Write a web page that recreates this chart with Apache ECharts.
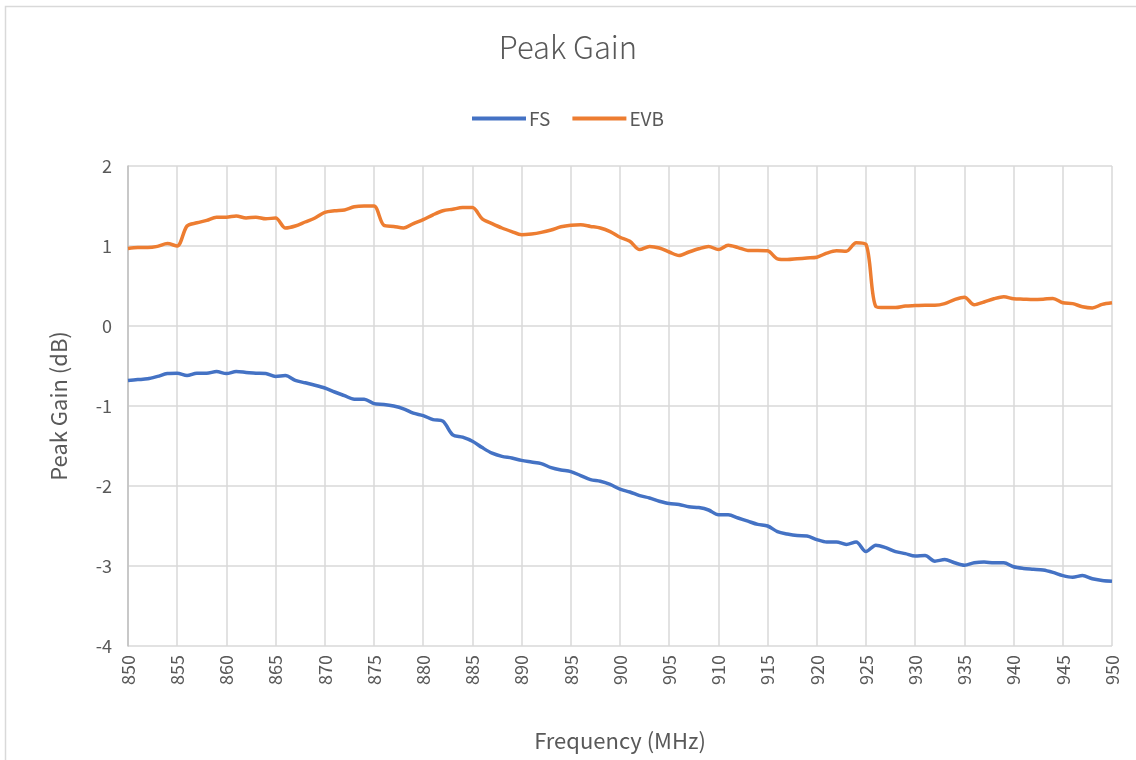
<!DOCTYPE html>
<html>
<head>
<meta charset="utf-8">
<script src="https://cdn.jsdelivr.net/npm/echarts@6/dist/echarts.min.js"></script>
<style>
html,body{margin:0;padding:0;background:#fff;}
#c{width:1136px;height:760px;}
</style>
</head>
<body>
<div id="c"></div>
<script>
var freq = [850,851,852,853,854,855,856,857,858,859,860,861,862,863,864,865,866,867,868,869,870,871,872,873,874,875,876,877,878,879,880,881,882,883,884,885,886,887,888,889,890,891,892,893,894,895,896,897,898,899,900,901,902,903,904,905,906,907,908,909,910,911,912,913,914,915,916,917,918,919,920,921,922,923,924,925,926,927,928,929,930,931,932,933,934,935,936,937,938,939,940,941,942,943,944,945,946,947,948,949,950];

var fsGain = [-0.68,-0.67,-0.66,-0.63,-0.595,-0.59,-0.62,-0.59,-0.59,-0.57,-0.595,-0.57,-0.58,-0.59,-0.595,-0.63,-0.62,-0.68,-0.71,-0.74,-0.775,-0.825,-0.87,-0.915,-0.915,-0.97,-0.98,-1.0,-1.035,-1.09,-1.12,-1.17,-1.19,-1.36,-1.39,-1.44,-1.52,-1.59,-1.63,-1.65,-1.68,-1.70,-1.72,-1.77,-1.80,-1.82,-1.87,-1.92,-1.94,-1.98,-2.04,-2.075,-2.12,-2.15,-2.19,-2.22,-2.23,-2.26,-2.27,-2.30,-2.36,-2.36,-2.40,-2.44,-2.48,-2.50,-2.57,-2.60,-2.62,-2.625,-2.67,-2.70,-2.70,-2.73,-2.70,-2.82,-2.74,-2.77,-2.82,-2.845,-2.875,-2.87,-2.94,-2.92,-2.96,-2.99,-2.96,-2.95,-2.96,-2.96,-3.01,-3.03,-3.04,-3.05,-3.08,-3.12,-3.14,-3.12,-3.16,-3.18,-3.19];

var evbGain = [0.97,0.98,0.98,0.995,1.03,1.0,1.25,1.29,1.32,1.36,1.36,1.375,1.35,1.36,1.34,1.35,1.225,1.25,1.30,1.35,1.42,1.44,1.45,1.49,1.50,1.50,1.26,1.245,1.225,1.28,1.33,1.39,1.44,1.46,1.48,1.48,1.34,1.28,1.225,1.18,1.14,1.15,1.17,1.20,1.24,1.26,1.265,1.245,1.225,1.18,1.11,1.06,0.955,0.995,0.975,0.925,0.88,0.925,0.965,0.995,0.955,1.01,0.98,0.945,0.945,0.94,0.84,0.83,0.84,0.85,0.86,0.91,0.94,0.935,1.04,1.02,0.245,0.23,0.23,0.25,0.255,0.26,0.26,0.28,0.33,0.36,0.265,0.30,0.34,0.365,0.34,0.335,0.33,0.335,0.345,0.29,0.28,0.24,0.225,0.27,0.29];

var seriesNames = ['FS','EVB'];
var titleText = 'Peak Gain';
var xName = 'Frequency (MHz)';
var yName = 'Peak Gain (dB)';

function pairs(ys){ return freq.map(function(f,i){ return [f, ys[i]]; }); }

var font = '"Noto Sans CJK SC", "Noto Sans", sans-serif';
var chart = echarts.init(document.getElementById('c'));
chart.setOption({
  animation: false,
  backgroundColor: '#fff',
  graphic: [{
    type: 'rect', left: 3, top: 4,
    shape: { width: 1140, height: 760, r: 0 },
    style: { fill: 'none', stroke: '#d9d9d9', lineWidth: 1.5 },
    silent: true
  }],
  title: {
    text: titleText, left: 'center', top: 27,
    textStyle: { fontFamily: font, fontSize: 31, fontWeight: 300, color: '#595959' }
  },
  legend: {
    top: 104, left: 'center', itemWidth: 54, itemHeight: 4, itemGap: 22,
    icon: 'rect',
    textStyle: { fontFamily: font, fontSize: 19, color: '#595959', padding: [0,0,0,-2] },
    data: seriesNames
  },
  grid: { left: 128, right: 24, top: 166, bottom: 114, containLabel: false },
  xAxis: {
    type: 'value', min: 850, max: 950, interval: 5,
    name: xName, nameLocation: 'middle', nameGap: 84,
    nameTextStyle: { fontFamily: font, fontSize: 22, color: '#595959' },
    axisLine: { show: false },
    axisTick: { show: false },
    axisLabel: { rotate: 90, fontFamily: font, fontSize: 18, color: '#595959', margin: 9 },
    splitLine: { show: true, lineStyle: { color: '#d9d9d9', width: 1.5 } }
  },
  yAxis: {
    type: 'value', min: -4, max: 2, interval: 1,
    name: yName, nameLocation: 'middle', nameGap: 58, nameRotate: 90,
    nameTextStyle: { fontFamily: font, fontSize: 22, color: '#595959' },
    axisLine: { show: true, lineStyle: { color: '#bfbfbf', width: 1.5 } },
    axisTick: { show: false },
    axisLabel: { fontFamily: font, fontSize: 18, color: '#595959', margin: 16 },
    splitLine: { show: true, lineStyle: { color: '#d9d9d9', width: 1.5 } }
  },
  series: [
    { name: seriesNames[0], type: 'line', data: pairs(fsGain), smooth: 0.3, showSymbol: false,
      lineStyle: { color: '#4472C4', width: 3.5 }, itemStyle: { color: '#4472C4' } },
    { name: seriesNames[1], type: 'line', data: pairs(evbGain), smooth: 0.3, showSymbol: false,
      lineStyle: { color: '#ED7D31', width: 3.5 }, itemStyle: { color: '#ED7D31' } }
  ]
});
</script>
</body>
</html>
